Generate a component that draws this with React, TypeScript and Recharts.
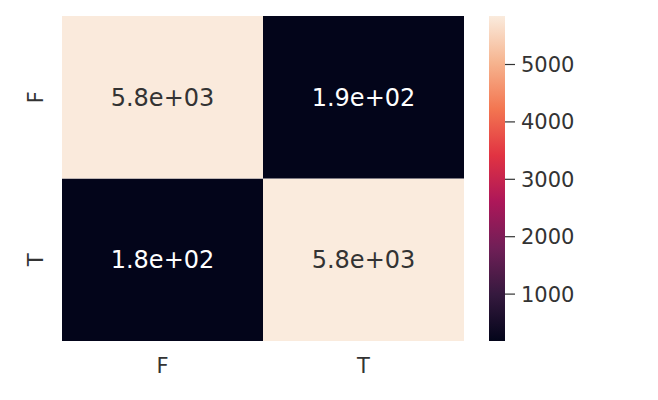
import React from "react";
import { BarChart, Bar, XAxis, YAxis, Cell, LabelList } from "recharts";

// confusion matrix: rows = actual, cols = predicted
const colLabels = ["F", "T"];
const rowLabels = ["F", "T"];
const rowF = [5830, 188];
const rowT = [183, 5845];
const cbarTicks = [1000, 2000, 3000, 4000, 5000];

const vmin = Math.min(...rowF, ...rowT);
const vmax = Math.max(...rowF, ...rowT);

// seaborn "rocket" colormap, sampled
const rocket: [number, string][] = [
  [0, "#03051a"],
  [0.143, "#35193e"],
  [0.286, "#701f57"],
  [0.429, "#ad1759"],
  [0.571, "#e13342"],
  [0.714, "#f37651"],
  [0.857, "#f6b48f"],
  [1, "#faebdd"],
];

function hex(c: string) {
  return [1, 3, 5].map((i) => parseInt(c.slice(i, i + 2), 16));
}

function rocketAt(t: number) {
  t = Math.max(0, Math.min(1, t));
  for (let i = 1; i < rocket.length; i++) {
    const [p1, c1] = rocket[i];
    const [p0, c0] = rocket[i - 1];
    if (t <= p1) {
      const f = (t - p0) / (p1 - p0);
      const a = hex(c0);
      const b = hex(c1);
      const m = a.map((v, k) => Math.round(v + (b[k] - v) * f));
      return `rgb(${m[0]},${m[1]},${m[2]})`;
    }
  }
  return rocket[rocket.length - 1][1];
}

const norm = (v: number) => (v - vmin) / (vmax - vmin);

function fmt(v: number) {
  const [m, e] = v.toExponential(1).split("e");
  const sign = e[0] === "-" ? "-" : "+";
  const digits = e.replace(/[+-]/, "").padStart(2, "0");
  return `${m}e${sign}${digits}`;
}

// one stacked column per predicted label; T row at the bottom, F row on top
const data = colLabels.map((c, j) => ({
  col: c,
  cellT: 1,
  cellF: 1,
  valT: rowT[j],
  valF: rowF[j],
}));

const FONT = "'DejaVu Sans', sans-serif";
const TEXT = "#333333";

// eslint-disable-next-line @typescript-eslint/no-explicit-any
function Annot(props: any) {
  const { x, y, width, height, value } = props;
  const light = norm(value) > 0.5;
  return (
    <text
      x={x + width / 2}
      y={y + height / 2}
      dy="0.36em"
      textAnchor="middle"
      fill={light ? TEXT : "#ffffff"}
      fontSize={24}
      fontFamily={FONT}
    >
      {fmt(value)}
    </text>
  );
}

// eslint-disable-next-line @typescript-eslint/no-explicit-any
function XTick({ x, y, payload }: any) {
  return (
    <text x={x} y={y + 32} textAnchor="middle" fill={TEXT} fontSize={21} fontFamily={FONT}>
      {payload.value}
    </text>
  );
}

// eslint-disable-next-line @typescript-eslint/no-explicit-any
function YTick({ x, y, payload }: any) {
  const label = payload.value > 1 ? rowLabels[0] : rowLabels[1];
  return (
    <text
      x={x - 19}
      y={y}
      transform={`rotate(-90, ${x - 19}, ${y})`}
      textAnchor="middle"
      fill={TEXT}
      fontSize={21}
      fontFamily={FONT}
    >
      {label}
    </text>
  );
}

export default function App() {
  return (
    <div style={{ position: "absolute", left: 0, top: 0, width: 658, height: 400, background: "#fff" }}>
      <div style={{ position: "absolute", left: 0, top: 0 }}>
        <BarChart
          width={480}
          height={400}
          data={data}
          barCategoryGap={0}
          margin={{ top: 16, right: 16, left: 22, bottom: 29 }}
        >
          <XAxis
            dataKey="col"
            height={30}
            axisLine={false}
            tickLine={false}
            tickSize={0}
            tickMargin={0}
            tick={<XTick />}
          />
          <YAxis
            type="number"
            domain={[0, 2]}
            ticks={[0.5, 1.5]}
            width={40}
            axisLine={false}
            tickLine={false}
            tickSize={0}
            tickMargin={0}
            tick={<YTick />}
          />
          <Bar dataKey="cellT" stackId="m" isAnimationActive={false}>
            {data.map((d) => (
              <Cell key={`t-${d.col}`} fill={rocketAt(norm(d.valT))} />
            ))}
            <LabelList dataKey="valT" content={<Annot />} />
          </Bar>
          <Bar dataKey="cellF" stackId="m" isAnimationActive={false}>
            {data.map((d) => (
              <Cell key={`f-${d.col}`} fill={rocketAt(norm(d.valF))} />
            ))}
            <LabelList dataKey="valF" content={<Annot />} />
          </Bar>
        </BarChart>
      </div>

      {/* colorbar */}
      <div style={{ position: "absolute", left: 480, top: 0 }}>
        <BarChart
          width={178}
          height={400}
          data={[{ name: "cbar", range: [vmin, vmax] }]}
          barCategoryGap={0}
          margin={{ top: 16, right: 73, left: 9, bottom: 59 }}
        >
          <defs>
            <linearGradient id="rocketGrad" x1="0" y1="1" x2="0" y2="0">
              {rocket.map(([p, c]) => (
                <stop key={p} offset={`${p * 100}%`} stopColor={c} />
              ))}
            </linearGradient>
          </defs>
          <XAxis dataKey="name" hide />
          <YAxis
            orientation="right"
            type="number"
            domain={[vmin, vmax]}
            ticks={cbarTicks}
            width={80}
            axisLine={false}
            tickLine={{ stroke: TEXT, strokeWidth: 1.2 }}
            tickSize={10}
            tickMargin={6}
            tick={{ fill: TEXT, fontSize: 21, fontFamily: FONT }}
          />
          <Bar dataKey="range" fill="url(#rocketGrad)" isAnimationActive={false} />
        </BarChart>
      </div>
    </div>
  );
}
